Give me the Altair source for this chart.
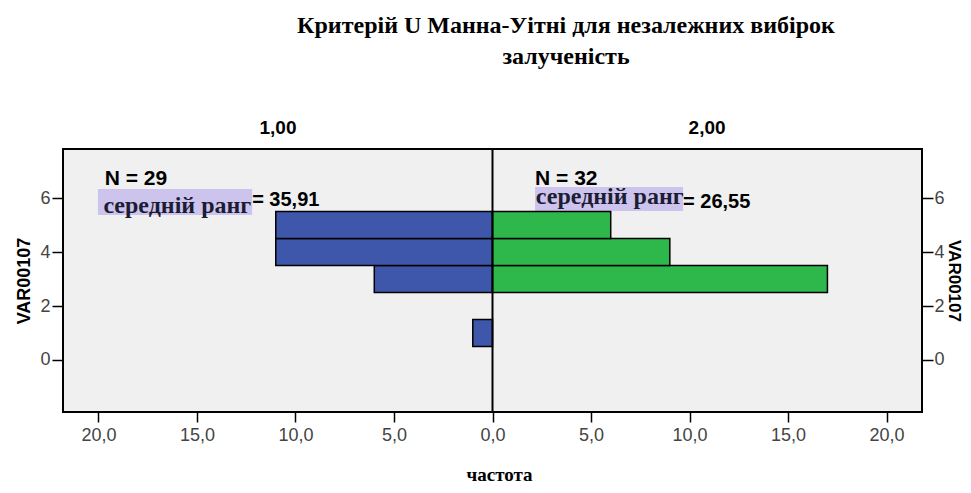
import altair as alt
import pandas as pd

# ---- data ----
groups = ["1,00", "2,00"]
left_values = [1, 3, 4, 5]          # VAR00107 categories, group 1,00
left_counts = [1, 6, 11, 11]
right_values = [3, 4, 5]            # group 2,00
right_counts = [17, 9, 6]
x_ticks = [-20, -15, -10, -5, 0, 5, 10, 15, 20]
y_ticks = [0, 2, 4, 6]
title_lines = ["Критерій U Манна-Уітні для незалежних вибірок", "залученість"]
n_labels = ["N = 29", "N = 32"]
rank_labels = ["= 35,91", "= 26,55"]

rows = []
for v, c in zip(left_values, left_counts):
    rows.append({"group": groups[0], "v": v, "sx": -c})
for v, c in zip(right_values, right_counts):
    rows.append({"group": groups[1], "v": v, "sx": c})
df = pd.DataFrame(rows)

W, H = 859, 263
xs = alt.Scale(domain=[-21.8, 21.8], nice=False, zero=False)
ys = alt.Scale(domain=[-1.926, 7.815], nice=False, zero=False)

x_axis = alt.Axis(
    values=x_ticks,
    labelExpr="replace(format(abs(datum.value), '.1f'), '.', ',')",
    tickSize=10,
    labelPadding=4,
    title="частота",
    titleFont="Liberation Serif",
    titleFontSize=19,
    titlePadding=21,
    titleX=436,
)

bars = (
    alt.Chart(df)
    .transform_calculate(lo="datum.v - 0.5", hi="datum.v + 0.5", z="0")
    .mark_rect(stroke="black", strokeWidth=1.5)
    .encode(
        x=alt.X("sx:Q", scale=xs, axis=x_axis),
        x2="z:Q",
        y=alt.Y("lo:Q", scale=ys, axis=alt.Axis(values=y_ticks, tickSize=11, labelPadding=2,
                                                 title="VAR00107", titlePadding=6)),
        y2="hi:Q",
        color=alt.Color("group:N", scale=alt.Scale(domain=groups, range=["#3F57AA", "#2EB84B"]), legend=None),
    )
)

right_axis = (
    alt.Chart(df)
    .mark_point(opacity=0)
    .encode(
        y=alt.Y("v:Q", scale=ys, axis=alt.Axis(orient="right", values=y_ticks, tickSize=11, labelPadding=1,
                                                title="VAR00107", titlePadding=0, titleFontSize=17)),
    )
)

center = (
    alt.Chart(pd.DataFrame({"sx": [0]}))
    .mark_rule(color="black", strokeWidth=2)
    .encode(x=alt.X("sx:Q", scale=xs, axis=x_axis), y=alt.value(0), y2=alt.value(H))
)

# highlight boxes behind "середній ранг"
boxes = (
    alt.Chart(pd.DataFrame({"sx": [-20.03, 2.16], "sx2": [-12.2, 9.67], "y1": [5.37, 5.52], "y2": [6.33, 6.41]}))
    .mark_rect(color="#CCC4EC")
    .encode(x=alt.X("sx:Q", scale=xs, axis=x_axis), x2="sx2:Q",
            y=alt.Y("y1:Q", scale=ys, axis=None), y2="y2:Q")
)

n_text = (
    alt.Chart(pd.DataFrame({"sx": [-19.68, 2.16], "y": [6.70, 6.70], "t": n_labels}))
    .mark_text(align="left", baseline="middle", font="Liberation Sans", fontWeight="bold", fontSize=21, color="black")
    .encode(x=alt.X("sx:Q", scale=xs, axis=x_axis), y=alt.Y("y:Q", scale=ys, axis=None), text="t:N")
)

rank_word = (
    alt.Chart(pd.DataFrame({"sx": [-19.75, 2.2], "y": [5.72, 6.02], "t": ["середній ранг", "середній ранг"]}))
    .mark_text(align="left", baseline="middle", font="Liberation Serif", fontWeight="bold", fontSize=24, color="#1c1c34")
    .encode(x=alt.X("sx:Q", scale=xs, axis=x_axis), y=alt.Y("y:Q", scale=ys, axis=None), text="t:N")
)

rank_val = (
    alt.Chart(pd.DataFrame({"sx": [-12.2, 9.67], "y": [5.93, 5.85], "t": rank_labels}))
    .mark_text(align="left", baseline="middle", font="Liberation Sans", fontWeight="bold", fontSize=20, color="black")
    .encode(x=alt.X("sx:Q", scale=xs, axis=x_axis), y=alt.Y("y:Q", scale=ys, axis=None), text="t:N")
)

headers = (
    alt.Chart(pd.DataFrame({"sx": [-10.89, 10.89], "t": groups}))
    .mark_text(align="center", baseline="alphabetic", font="Liberation Sans", fontWeight="bold", fontSize=19, color="black")
    .encode(x=alt.X("sx:Q", scale=xs, axis=x_axis), y=alt.value(-15), text="t:N")
)

title = (
    alt.Chart(pd.DataFrame({"t": title_lines, "yy": [-116, -85]}))
    .mark_text(align="center", baseline="alphabetic", font="Liberation Serif", fontWeight="bold", fontSize=24, color="black")
    .encode(x=alt.value(503), y=alt.Y("yy:Q", scale=None, axis=None), text="t:N")
)

chart = (
    alt.layer(boxes, bars, center, right_axis, n_text, rank_word, rank_val, headers, title)
    .resolve_axis(y="independent")
    .properties(width=W, height=H, autosize="none",
                padding={"left": 55, "top": 141, "right": 41, "bottom": 73})
    .configure_view(fill="#F0F0F0", stroke="black", strokeWidth=2)
    .configure_axis(domain=False, grid=False, tickColor="black", tickWidth=1.5,
                    labelColor="#444444", labelFont="Liberation Sans", labelFontSize=18,
                    titleFont="Liberation Sans", titleFontSize=18, titleFontWeight="bold", titleColor="black")
)

chart.save("out.html", embed_options={"renderer": "svg", "actions": False})
